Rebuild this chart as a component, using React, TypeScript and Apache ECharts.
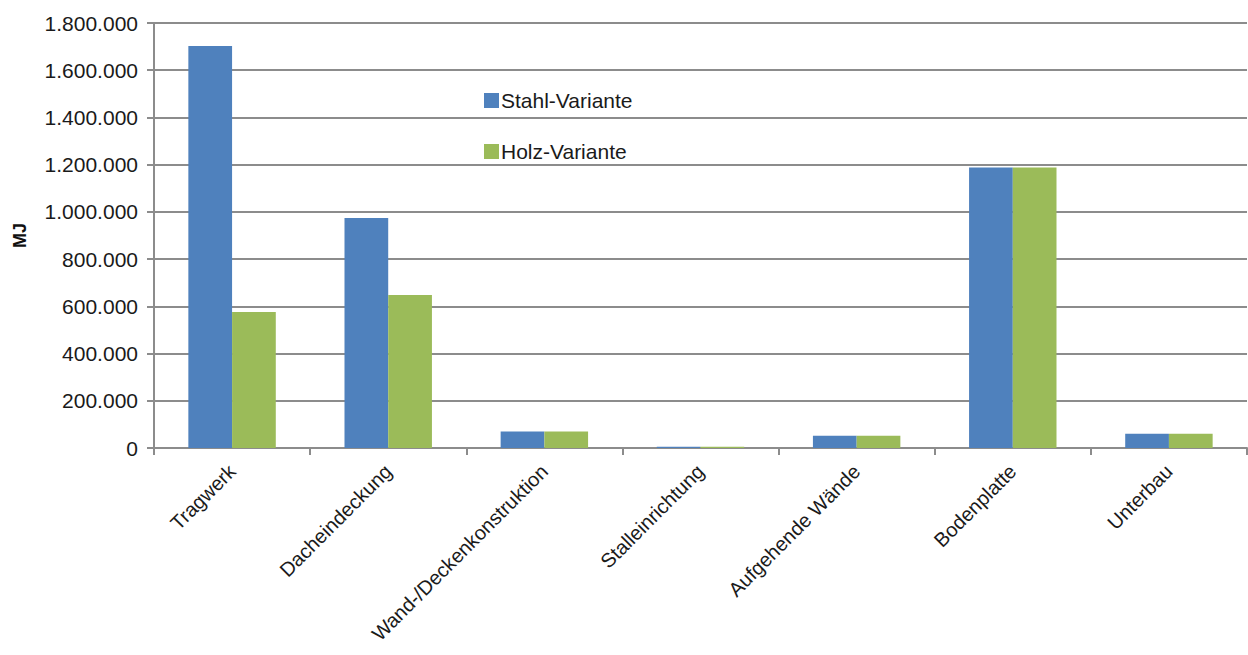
import React, { useEffect, useRef } from "react";
import * as echarts from "echarts";

const categories = [
  "Tragwerk",
  "Dacheindeckung",
  "Wand-/Deckenkonstruktion",
  "Stalleinrichtung",
  "Aufgehende Wände",
  "Bodenplatte",
  "Unterbau",
];
const stahlValues = [1703000, 974000, 70000, 5000, 52000, 1188000, 60000];
const holzValues = [576000, 648000, 70000, 5000, 52000, 1188000, 60000];
const seriesNames = ["Stahl-Variante", "Holz-Variante"];
const yAxisName = "MJ";

const fmt = (v: number) => String(Math.round(v)).replace(/\B(?=(\d{3})+(?!\d))/g, ".");

export default function App() {
  const ref = useRef<HTMLDivElement>(null);
  useEffect(() => {
    if (!ref.current) return;
    const chart = echarts.init(ref.current, null, { renderer: "svg" });
    const font = "'Liberation Sans', Arial, sans-serif";
    chart.setOption({
      animation: false,
      backgroundColor: "#ffffff",
      textStyle: { fontFamily: font },
      grid: { left: 154, right: 1, top: 23, bottom: 207, containLabel: false },
      legend: {
        orient: "vertical",
        left: 479,
        top: 85,
        itemWidth: 15,
        itemHeight: 15,
        itemGap: 30,
        icon: "rect",
        data: seriesNames,
        textStyle: { fontSize: 21, color: "#1a1a1a", fontFamily: font, padding: [0, 0, 0, -3] },
      },
      xAxis: {
        type: "category",
        data: categories,
        axisLine: { lineStyle: { color: "#8c8c8c", width: 2 } },
        axisTick: { show: true, length: 7, lineStyle: { color: "#8c8c8c", width: 2 } },
        axisLabel: {
          rotate: 45,
          interval: 0,
          margin: 20,
          fontSize: 20,
          color: "#1a1a1a",
          fontFamily: font,
        },
      },
      yAxis: {
        type: "value",
        min: 0,
        max: 1800000,
        interval: 200000,
        name: yAxisName,
        nameLocation: "middle",
        nameGap: 125,
        nameRotate: 90,
        nameTextStyle: { fontSize: 18, fontWeight: "bold", color: "#111", fontFamily: font },
        axisLine: { show: true, lineStyle: { color: "#8c8c8c", width: 2 } },
        axisTick: { show: true, length: 7, inside: false, lineStyle: { color: "#8c8c8c", width: 2 } },
        splitLine: { show: true, lineStyle: { color: "#8c8c8c", width: 2 } },
        axisLabel: {
          formatter: (v: number) => fmt(v),
          fontSize: 21,
          margin: 16,
          color: "#1a1a1a",
          fontFamily: font,
        },
      },
      series: [
        {
          name: seriesNames[0],
          type: "bar",
          data: stahlValues,
          itemStyle: { color: "#4F81BD" },
          barGap: "0%",
          barCategoryGap: "44%",
        },
        {
          name: seriesNames[1],
          type: "bar",
          data: holzValues,
          itemStyle: { color: "#9BBB59" },
          barGap: "0%",
          barCategoryGap: "44%",
        },
      ],
    });
    return () => chart.dispose();
  }, []);
  return (
    <div
      ref={ref}
      style={{ position: "fixed", left: 0, top: 0, width: 1248, height: 655, background: "#fff" }}
    />
  );
}
